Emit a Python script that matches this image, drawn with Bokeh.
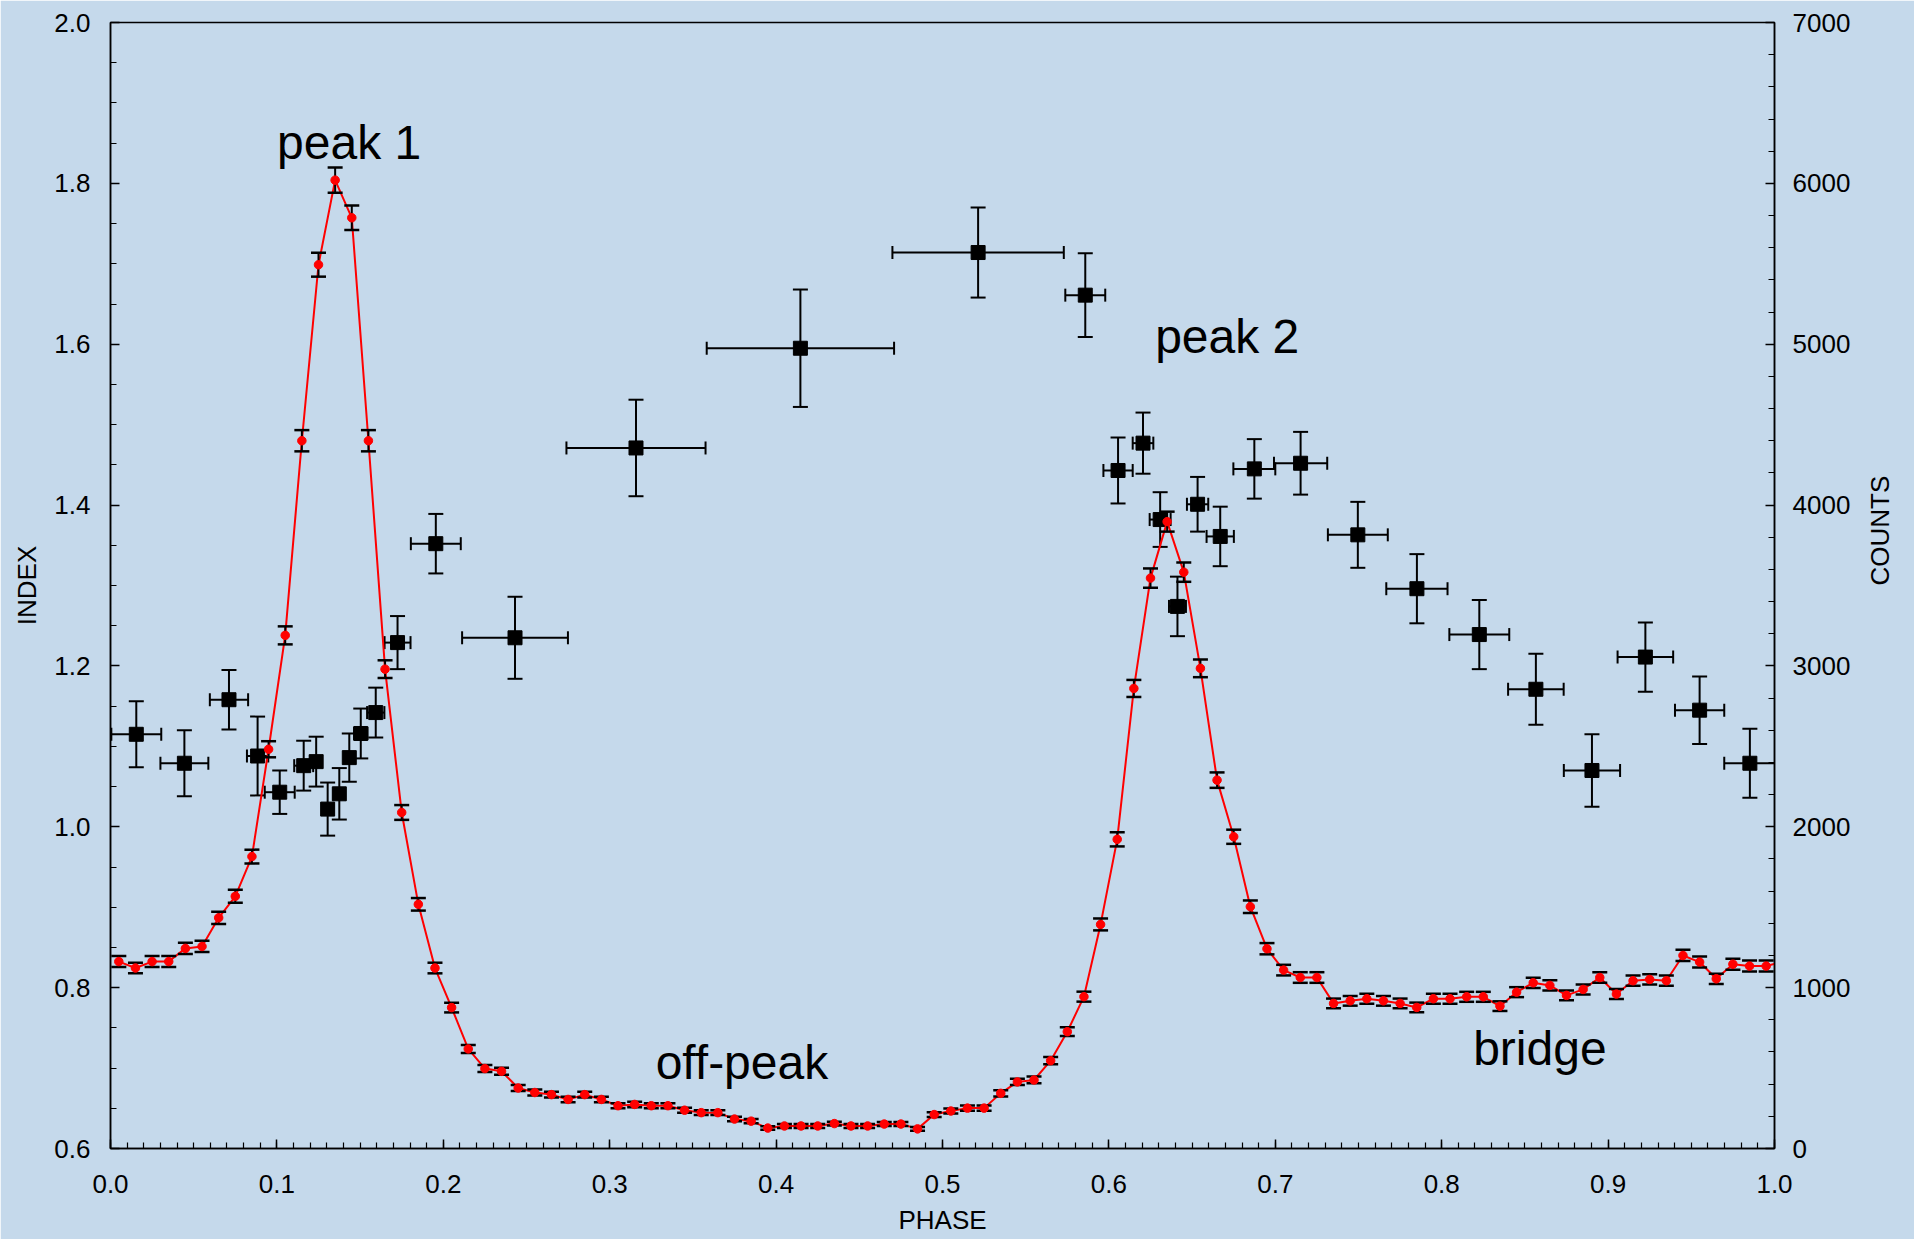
import numpy as np
from bokeh.plotting import figure
from bokeh.models import (Range1d, LinearAxis, SingleIntervalTicker, NumeralTickFormatter,
                          ColumnDataSource, Label)
from bokeh.embed import file_html
from bokeh.resources import INLINE

# ---------------- data ----------------
# pulse profile (right axis, counts) in phase bins
count_phase = [0.005, 0.015, 0.025, 0.035, 0.045, 0.055, 0.065, 0.075, 0.085, 0.095,
               0.105, 0.115, 0.125, 0.135, 0.145, 0.155, 0.165, 0.175, 0.185, 0.195,
               0.205, 0.215, 0.225, 0.235, 0.245, 0.255, 0.265, 0.275, 0.285, 0.295,
               0.305, 0.315, 0.325, 0.335, 0.345, 0.355, 0.365, 0.375, 0.385, 0.395,
               0.405, 0.415, 0.425, 0.435, 0.445, 0.455, 0.465, 0.475, 0.485, 0.495,
               0.505, 0.515, 0.525, 0.535, 0.545, 0.555, 0.565, 0.575, 0.585, 0.595,
               0.605, 0.615, 0.625, 0.635, 0.645, 0.655, 0.665, 0.675, 0.685, 0.695,
               0.705, 0.715, 0.725, 0.735, 0.745, 0.755, 0.765, 0.775, 0.785, 0.795,
               0.805, 0.815, 0.825, 0.835, 0.845, 0.855, 0.865, 0.875, 0.885, 0.895,
               0.905, 0.915, 0.925, 0.935, 0.945, 0.955, 0.965, 0.975, 0.985, 0.995,
               1.005]
counts = [1162, 1122, 1162, 1162, 1244, 1256, 1434, 1568, 1815, 2482,
          3190, 4400, 5494, 6020, 5786, 4400, 2980, 2089, 1518, 1122,
          876, 619, 497, 480, 376, 348, 335, 305, 335, 305,
          266, 274, 266, 266, 238, 223, 223, 183, 170, 127,
          140, 140, 140, 155, 140, 140, 152, 152, 122, 211,
          233, 251, 251, 343, 414, 426, 546, 726, 944, 1393,
          1922, 2860, 3546, 3897, 3583, 2985, 2290, 1938, 1503, 1242,
          1109, 1063, 1063, 902, 918, 931, 918, 902, 877, 931,
          931, 943, 943, 885, 972, 1030, 1014, 952, 989, 1063,
          960, 1043, 1051, 1043, 1200, 1159, 1055, 1146, 1134, 1134,
          1162]
count_err = [34, 33, 34, 34, 35, 35, 38, 40, 43, 50,
             56, 66, 74, 78, 76, 66, 55, 46, 39, 33,
             30, 25, 22, 22, 19, 19, 18, 17, 18, 17,
             16, 17, 16, 16, 15, 15, 15, 14, 13, 11,
             12, 12, 12, 12, 12, 12, 12, 12, 11, 15,
             15, 16, 16, 19, 20, 21, 23, 27, 31, 37,
             44, 53, 60, 62, 60, 55, 48, 44, 39, 35,
             33, 33, 33, 30, 30, 31, 30, 30, 30, 31,
             31, 31, 31, 30, 31, 32, 32, 31, 31, 33,
             31, 32, 32, 32, 35, 34, 32, 34, 34, 34,
             34]

# spectral index (left axis) in variable-width phase bins
idx_phase = [0.0155, 0.0444, 0.0712, 0.0884, 0.1017, 0.1161, 0.1236, 0.1305, 0.1375, 0.1435,
             0.1504, 0.1594, 0.1725, 0.1955, 0.2431, 0.3158, 0.4146, 0.5214, 0.5858, 0.6055,
             0.6205, 0.6308, 0.6412, 0.6533, 0.6669, 0.6874, 0.7152, 0.7496, 0.7851, 0.8226,
             0.8566, 0.8903, 0.9224, 0.9550, 0.9852]
idx_phase_err = [0.0150, 0.0144, 0.0115, 0.0064, 0.0090, 0.0057, 0.0035, 0.0035, 0.0035, 0.0030,
                 0.0040, 0.0052, 0.0078, 0.0150, 0.0318, 0.0418, 0.0563, 0.0515, 0.0120, 0.0088,
                 0.0062, 0.0063, 0.0051, 0.0064, 0.0082, 0.0126, 0.0160, 0.0180, 0.0184, 0.0180,
                 0.0167, 0.0169, 0.0167, 0.0148, 0.0154]
index = [1.115, 1.079, 1.158, 1.088, 1.043, 1.076, 1.081, 1.022, 1.041, 1.086,
         1.116, 1.142, 1.229, 1.352, 1.235, 1.471, 1.595, 1.714, 1.661, 1.443,
         1.477, 1.382, 1.274, 1.401, 1.361, 1.445, 1.452, 1.363, 1.296, 1.239,
         1.171, 1.070, 1.211, 1.145, 1.079]
index_err = [0.041, 0.041, 0.037, 0.049, 0.027, 0.031, 0.031, 0.033, 0.032, 0.030,
             0.031, 0.031, 0.033, 0.037, 0.051, 0.060, 0.073, 0.056, 0.052, 0.041,
             0.038, 0.034, 0.037, 0.034, 0.037, 0.037, 0.039, 0.041, 0.043, 0.043,
             0.044, 0.045, 0.043, 0.042, 0.043]

# ---------------- styles ----------------
BG = "#C5D9EB"
FONT = "Liberation Sans"

p = figure(width=1914, height=1239, output_backend="svg", toolbar_location=None,
           x_range=Range1d(0, 1), y_range=Range1d(0.6, 2.0),
           min_border_left=110, min_border_right=140, min_border_top=22, min_border_bottom=91,
           background_fill_color=BG, border_fill_color=BG)
p.extra_y_ranges = {"counts": Range1d(0, 7000)}
p.grid.visible = False
p.outline_line_color = "black"
p.outline_line_width = 1.5

right_axis = LinearAxis(y_range_name="counts")
p.add_layout(right_axis, "right")

xax = p.xaxis[0]
yax = p.yaxis[0]
xax.ticker = SingleIntervalTicker(interval=0.1, num_minor_ticks=10)
xax.formatter = NumeralTickFormatter(format="0.0")
yax.ticker = SingleIntervalTicker(interval=0.2, num_minor_ticks=4)
yax.formatter = NumeralTickFormatter(format="0.0")
right_axis.ticker = SingleIntervalTicker(interval=1000, num_minor_ticks=5)
right_axis.formatter = NumeralTickFormatter(format="0")

for ax in (xax, yax, right_axis):
    ax.axis_line_color = "black"
    ax.axis_line_width = 1.5
    ax.major_tick_in = 9
    ax.major_tick_out = 0
    ax.minor_tick_in = 6
    ax.minor_tick_out = 0
    ax.major_tick_line_width = 1.5
    ax.minor_tick_line_width = 1.2
    ax.major_tick_line_color = "black"
    ax.minor_tick_line_color = "black"
    ax.major_label_text_font = FONT
    ax.major_label_text_font_size = "26px"
    ax.major_label_text_color = "black"
    ax.axis_label_text_font = FONT
    ax.axis_label_text_font_size = "26px"
    ax.axis_label_text_font_style = "normal"
    ax.axis_label_text_color = "black"

xax.major_label_standoff = 26
yax.major_label_standoff = 20
right_axis.major_label_standoff = 18

xax.axis_label = "PHASE"
xax.axis_label_standoff = 9
yax.axis_label = "INDEX"
yax.axis_label_standoff = 9
right_axis.axis_label = "COUNTS"
right_axis.axis_label_standoff = 27
if "axis_label_orientation" in right_axis.properties():
    right_axis.axis_label_orientation = np.pi / 2

# ---------------- index points (black squares) ----------------
ip = np.array(idx_phase)
ipe = np.array(idx_phase_err)
iv = np.array(index)
ive = np.array(index_err)
src_i = ColumnDataSource(dict(x=ip, y=iv, xlo=ip - ipe, xhi=ip + ipe, ylo=iv - ive, yhi=iv + ive))

p.segment(x0="xlo", y0="y", x1="xhi", y1="y", source=src_i, line_color="black", line_width=2)
p.segment(x0="x", y0="ylo", x1="x", y1="yhi", source=src_i, line_color="black", line_width=2)
for col in ("xlo", "xhi"):
    p.scatter(x=col, y="y", source=src_i, marker="dash", angle=np.pi / 2, size=13,
              line_color="black", line_width=2)
for col in ("ylo", "yhi"):
    p.scatter(x="x", y=col, source=src_i, marker="dash", size=15,
              line_color="black", line_width=2)
p.scatter(x="x", y="y", source=src_i, marker="square", size=14,
          fill_color="black", line_color="black")

# ---------------- counts profile (red) ----------------
cp = np.array(count_phase)
cv = np.array(counts, dtype=float)
ce = np.array(count_err, dtype=float)
src_c = ColumnDataSource(dict(x=cp, y=cv, lo=cv - ce, hi=cv + ce))

p.line(x="x", y="y", source=src_c, y_range_name="counts", line_color="red", line_width=2)
p.segment(x0="x", y0="lo", x1="x", y1="hi", source=src_c, y_range_name="counts",
          line_color="black", line_width=2)
for col in ("lo", "hi"):
    p.scatter(x="x", y=col, source=src_c, y_range_name="counts", marker="dash", size=15,
              line_color="black", line_width=2.5)
p.scatter(x="x", y="y", source=src_c, y_range_name="counts", marker="circle", size=8.5,
          fill_color="red", line_color="red")

# ---------------- annotations ----------------
def add_text(txt, x, y):
    p.add_layout(Label(x=x, y=y, text=txt, text_font=FONT, text_font_size="48px",
                       text_color="black", text_align="left", text_baseline="alphabetic"))

add_text("peak 1", 0.1001, 1.851)
add_text("peak 2", 0.6278, 1.610)
add_text("off-peak", 0.3276, 0.707)
add_text("bridge", 0.8189, 0.724)

open("out.html", "w").write(file_html(p, INLINE))
